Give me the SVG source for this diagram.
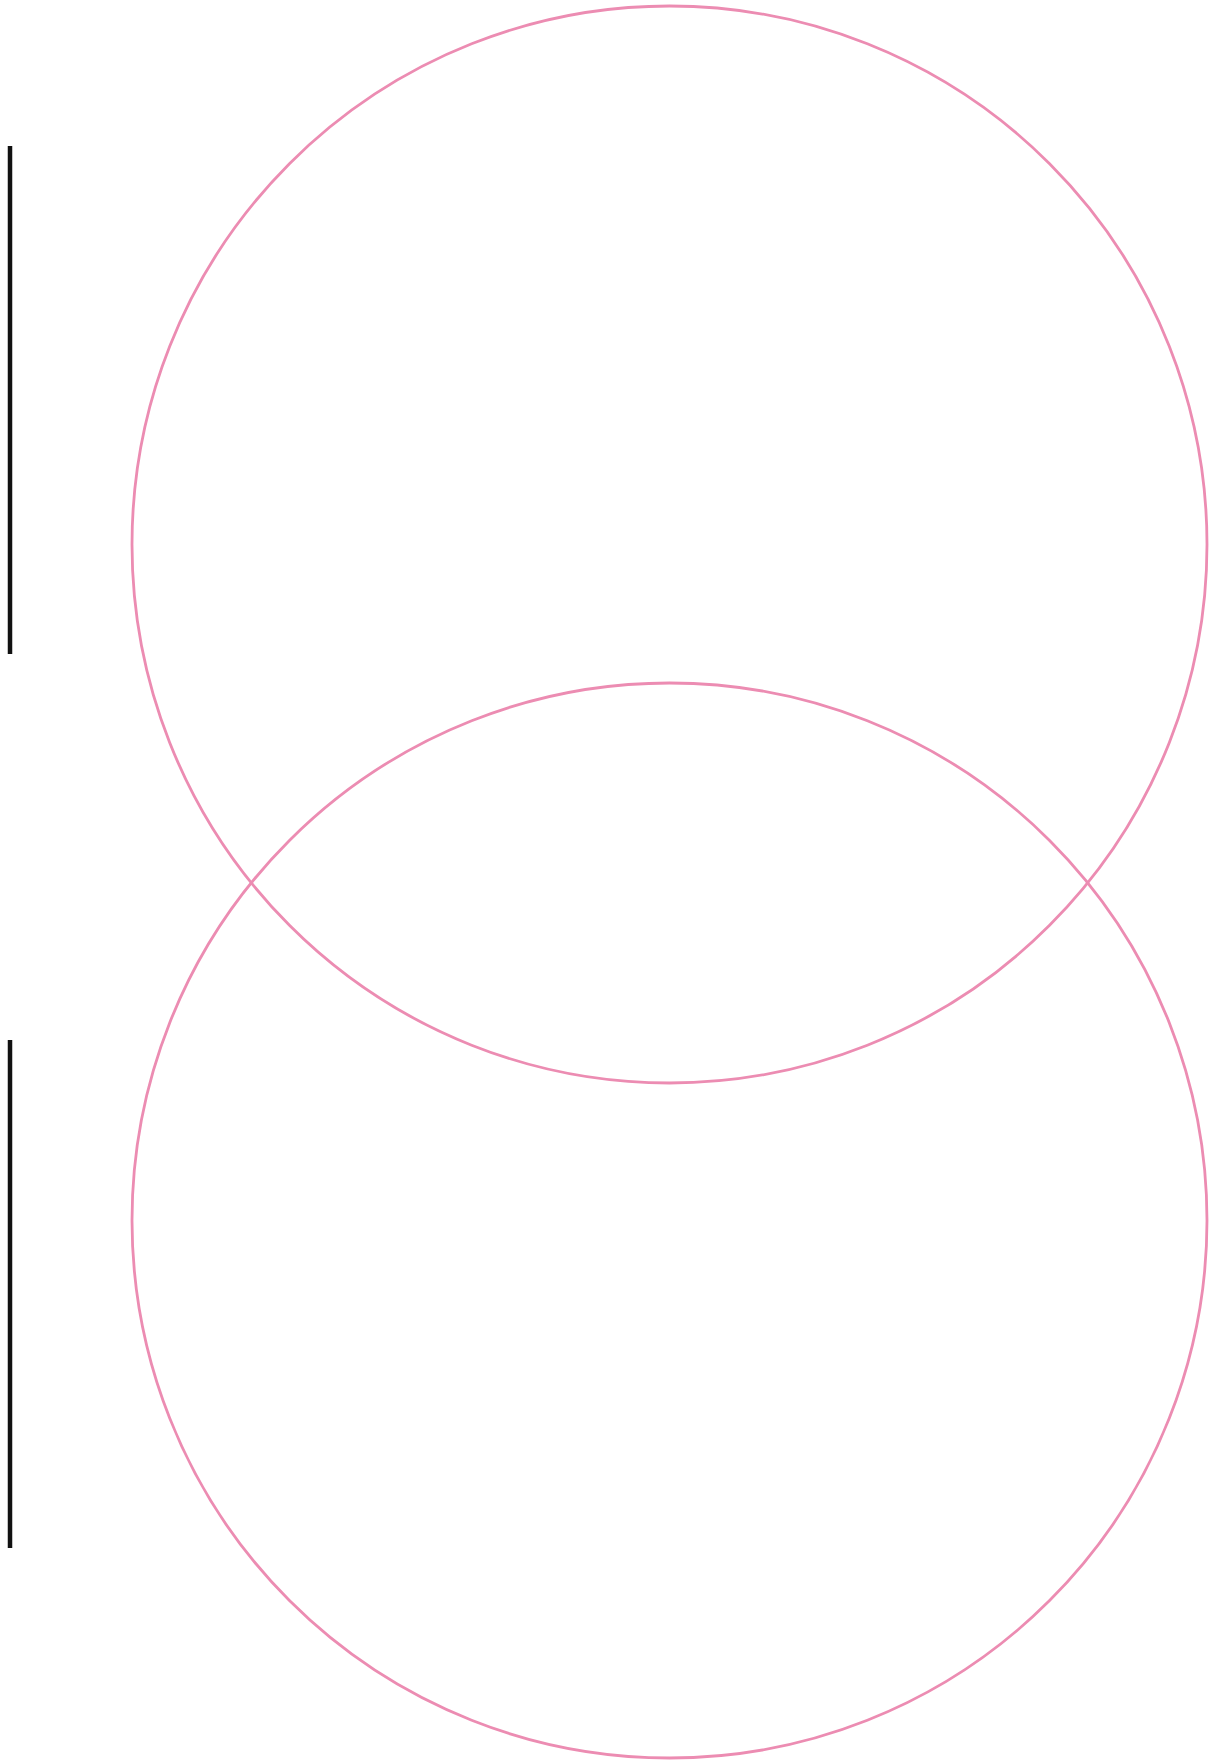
<svg xmlns="http://www.w3.org/2000/svg" width="1217" height="1760" viewBox="0 0 1217 1760">
<style>
.c{fill:none;stroke:#ec8cb2;stroke-width:2.8}
.bar{stroke:#111;stroke-width:4.5}
</style>
<rect width="1217" height="1760" fill="#fff"/>
<g id="circle-top"><ellipse class="c" cx="669.5" cy="544.5" rx="537.5" ry="538.5"/></g>
<g id="circle-bottom"><ellipse class="c" cx="669.5" cy="1220.5" rx="537.5" ry="537.5"/></g>
<g id="bars">
<line class="bar" x1="10" y1="146" x2="10" y2="654"/>
<line class="bar" x1="10" y1="1040" x2="10" y2="1548"/>
</g>
</svg>
